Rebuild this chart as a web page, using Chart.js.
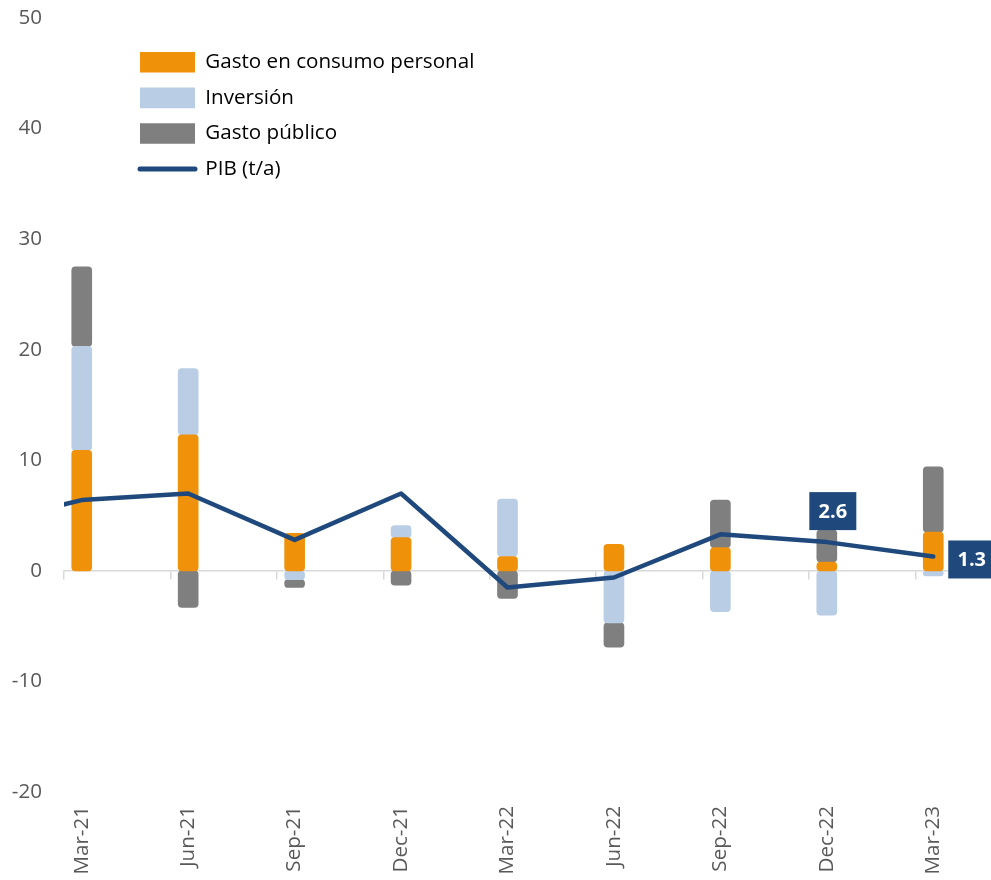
<!DOCTYPE html>
<html>
<head>
<meta charset="utf-8">
<script src="https://cdn.jsdelivr.net/npm/chart.js@4"></script>
<style>
  html, body { margin: 0; padding: 0; background: #ffffff; }
  #wrap { width: 991px; height: 880px; position: relative; }
</style>
</head>
<body>
<div id="wrap"><canvas id="c" width="991" height="880"></canvas></div>
<script>
// Monthly category axis (labels shown every quarter)
const months = ['Dec-20','Jan-21','Feb-21','Mar-21','Apr-21','May-21','Jun-21','Jul-21','Aug-21','Sep-21','Oct-21','Nov-21','Dec-21',
                'Jan-22','Feb-22','Mar-22','Apr-22','May-22','Jun-22','Jul-22','Aug-22','Sep-22','Oct-22','Nov-22','Dec-22',
                'Jan-23','Feb-23','Mar-23'];
const quarters = ['Mar-21','Jun-21','Sep-21','Dec-21','Mar-22','Jun-22','Sep-22','Dec-22','Mar-23'];
const consumo   = [10.9, 12.3, 3.4, 3.0, 1.3, 2.4, 2.1, 0.8, 3.5];
const inversion = [9.4, 6.0, -0.8, 1.1, 5.2, -4.7, -3.7, -4.0, -0.45];
const publico   = [7.2, -3.3, -0.7, -1.3, -2.5, -2.2, 4.3, 2.9, 5.9];
const pibQuarters = ['Dec-20','Mar-21','Jun-21','Sep-21','Dec-21','Mar-22','Jun-22','Sep-22','Dec-22','Mar-23'];
const pib         = [4.1, 6.4, 7.0, 2.8, 7.0, -1.5, -0.6, 3.3, 2.6, 1.3];
const labeledPoints = ['Dec-22','Mar-23'];
const yTicks = [-20, -10, 0, 10, 20, 30, 40, 50];

const FONT = "'Open Sans', 'DejaVu Sans', sans-serif";
const TXT = '#595959';
const C_ORANGE = '#F0910A', C_BLUE = '#B9CDE5', C_GRAY = '#7F7F7F', C_NAVY = '#1F497D';

// Build floating stacked segments (Excel-like stacking: positives up, negatives down)
const seriesList = [consumo, inversion, publico];
const segs = seriesList.map(() => months.map(() => null));
quarters.forEach((q, qi) => {
  const mi = months.indexOf(q);
  let pos = 0, neg = 0;
  seriesList.forEach((s, si) => {
    const v = s[qi];
    if (v >= 0) { segs[si][mi] = [pos, pos + v]; pos += v; }
    else { segs[si][mi] = [neg, neg + v]; neg += v; }
  });
});
const pibData = months.map(m => { const i = pibQuarters.indexOf(m); return i >= 0 ? pib[i] : null; });

const barCommon = { xAxisID: 'x', yAxisID: 'y', barThickness: 20, borderRadius: 4, borderSkipped: false, grouped: false, order: 1 };

const legendShift = {
  id: 'legendShift',
  afterLayout(chart) {
    const l = chart.legend;
    if (!l) return;
    const dx = 140 - 15 - l.left, dy = 52 - 15 - l.top;
    l.left += dx; l.right += dx; l.top += dy; l.bottom += dy;
  }
};

const pointLabels = {
  id: 'pointLabels',
  afterDatasetsDraw(chart) {
    const meta = chart.getDatasetMeta(3);
    const ctx = chart.ctx;
    ctx.save();
    ctx.font = "bold 20px " + FONT;
    labeledPoints.forEach((m, k) => {
      const idx = months.indexOf(m);
      const pt = meta.data[idx];
      const val = pibData[idx];
      const w = 47, h = 38;
      let bx, by;
      if (k === 0) { bx = pt.x + 6 - w / 2; by = pt.y - 50; }
      else { bx = pt.x + 15; by = pt.y - 16; }
      ctx.fillStyle = C_NAVY;
      ctx.fillRect(bx, by, w, h);
      ctx.fillStyle = '#ffffff';
      ctx.textAlign = 'center';
      ctx.textBaseline = 'middle';
      ctx.fillText(val.toFixed(1), bx + w / 2, by + h / 2 + 1);
    });
    ctx.restore();
  }
};

const chart = new Chart(document.getElementById('c'), {
  type: 'bar',
  data: {
    labels: months,
    datasets: [
      Object.assign({ label: 'Gasto en consumo personal', data: segs[0], backgroundColor: C_ORANGE }, barCommon),
      Object.assign({ label: 'Inversión', data: segs[1], backgroundColor: C_BLUE }, barCommon),
      Object.assign({ label: 'Gasto público', data: segs[2], backgroundColor: C_GRAY }, barCommon),
      { type: 'line', label: 'PIB (t/a)', data: pibData, xAxisID: 'x', yAxisID: 'y', borderColor: C_NAVY, backgroundColor: C_NAVY,
        borderWidth: 4.5, pointRadius: 0, spanGaps: true, tension: 0, borderCapStyle: 'round', borderJoinStyle: 'round', order: 0 }
    ]
  },
  options: {
    responsive: false,
    animation: false,
    devicePixelRatio: 1,
    layout: { padding: { top: 18, right: 40, bottom: 0, left: 0 } },
    plugins: {
      tooltip: { enabled: false },
      legend: {
        position: 'chartArea',
        align: 'start',
        labels: {
          usePointStyle: true,
          pointStyleWidth: 55,
          boxHeight: 21,
          padding: 15,
          color: TXT,
          font: { family: FONT, size: 20.6 },
          generateLabels(chart) {
            return chart.data.datasets.map((ds, i) => ({
              text: ds.label,
              fillStyle: ds.backgroundColor,
              strokeStyle: i === 3 ? C_NAVY : ds.backgroundColor,
              lineWidth: i === 3 ? 5 : 0,
              lineCap: 'round',
              pointStyle: i === 3 ? 'line' : 'rect',
              datasetIndex: i,
              hidden: false
            }));
          }
        }
      }
    },
    scales: {
      x: {
        type: 'category',
        position: { y: 0 },
        min: 'Mar-21', max: 'Mar-23',
        offset: true,
        ticks: { display: false },
        grid: {
          offset: true,
          drawOnChartArea: false,
          drawTicks: true,
          tickLength: 8,
          lineWidth: 1.5,
          color: (ctx) => (ctx.tick && ctx.tick.value % 3 === 0) ? '#D9D9D9' : 'rgba(0,0,0,0)'
        },
        border: { display: true, color: '#D9D9D9', width: 1.5 },
        afterFit(scale) { scale.paddingTop = 0; scale.paddingBottom = 0; }
      },
      x2: {
        type: 'category',
        position: 'bottom',
        labels: months,
        min: 'Mar-21', max: 'Mar-23',
        offset: true,
        grid: { display: false, drawTicks: false },
        border: { display: false },
        afterFit(scale) { scale.height = 88; scale.paddingTop = 0; scale.paddingBottom = 0; },
        ticks: {
          autoSkip: false,
          minRotation: 90, maxRotation: 90,
          padding: 14,
          color: TXT,
          font: { family: FONT, size: 20.6 },
          callback(value) { return value % 3 === 0 ? months[value] : ''; }
        }
      },
      y: {
        type: 'linear',
        position: 'left',
        min: yTicks[0], max: yTicks[yTicks.length - 1],
        afterFit(scale) { scale.width = 64; scale.paddingTop = 0; scale.paddingBottom = 0; },
        afterBuildTicks(scale) { scale.ticks = yTicks.map(v => ({ value: v })); },
        grid: { display: false, drawTicks: false },
        border: { display: false },
        ticks: { padding: 22, color: TXT, font: { family: FONT, size: 20.6 } }
      }
    }
  },
  plugins: [legendShift, pointLabels]
});
chart.update('none');
</script>
</body>
</html>
